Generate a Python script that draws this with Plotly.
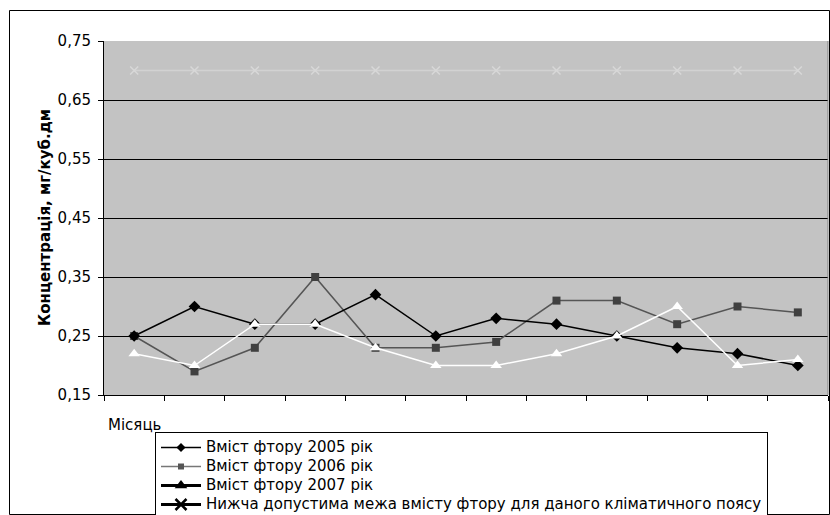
import plotly.graph_objects as go

# Months (1..12) and fluoride content, mg/cub.dm
months = list(range(1, 13))
fluor_2005 = [0.25, 0.30, 0.27, 0.27, 0.32, 0.25, 0.28, 0.27, 0.25, 0.23, 0.22, 0.20]
fluor_2006 = [0.25, 0.19, 0.23, 0.35, 0.23, 0.23, 0.24, 0.31, 0.31, 0.27, 0.30, 0.29]
fluor_2007 = [0.22, 0.20, 0.27, 0.27, 0.23, 0.20, 0.20, 0.22, 0.25, 0.30, 0.20, 0.21]
lower_limit = [0.70] * 12

names = [
    "Вміст фтору 2005 рік",
    "Вміст фтору 2006 рік",
    "Вміст фтору 2007 рік",
    "Нижча допустима межа вмісту фтору для даного кліматичного поясу",
]
y_ticks = [0.15, 0.25, 0.35, 0.45, 0.55, 0.65, 0.75]

FONT = "DejaVu Sans, Verdana, sans-serif"

fig = go.Figure()

# Plotted series
fig.add_trace(go.Scatter(
    x=months, y=lower_limit, mode="lines+markers", showlegend=False,
    line=dict(color="#d2d2d2", width=1.5),
    marker=dict(symbol="x-thin", size=8, line=dict(color="#d8d8d8", width=1.5)),
))
fig.add_trace(go.Scatter(
    x=months, y=fluor_2006, mode="lines+markers", showlegend=False,
    line=dict(color="#555555", width=1.5),
    marker=dict(symbol="square", size=8, color="#404040"),
))
fig.add_trace(go.Scatter(
    x=months, y=fluor_2005, mode="lines+markers", showlegend=False,
    line=dict(color="#000000", width=1.5),
    marker=dict(symbol="diamond", size=9, color="#000000"),
))
fig.add_trace(go.Scatter(
    x=months, y=fluor_2007, mode="lines+markers", showlegend=False,
    line=dict(color="#ffffff", width=1.5),
    marker=dict(symbol="triangle-up", size=10, color="#ffffff"),
))

# Legend keys
legend_styles = [
    dict(line=dict(color="#000000", width=1.5), marker=dict(symbol="diamond", size=7, color="#000000")),
    dict(line=dict(color="#777777", width=1.5), marker=dict(symbol="square", size=6, color="#555555")),
    dict(line=dict(color="#000000", width=3), marker=dict(symbol="triangle-up", size=11, color="#000000")),
    dict(line=dict(color="#000000", width=3), marker=dict(symbol="x-thin", size=11,
                                                          line=dict(color="#000000", width=2.5))),
]
for name, style in zip(names, legend_styles):
    fig.add_trace(go.Scatter(
        x=[None], y=[None], mode="lines+markers",
        name=f"<span style='font-size:15px'>{name}</span>", **style))

L, R, T, B = 104, 2, 41, 120
W, H = 830, 515
pw, ph = W - L - R, H - T - B


def px_x(px):
    return (px - L) / pw


def px_y(py):
    return (H - B - py) / ph


fig.update_layout(
    width=W, height=H,
    margin=dict(l=L, r=R, t=T, b=B, pad=0, autoexpand=False),
    paper_bgcolor="#ffffff",
    plot_bgcolor="#c3c3c3",
    separators=", ",
    font=dict(family=FONT, size=15, color="#000000"),
    xaxis=dict(
        range=[0.5, 12.5],
        tickvals=[m + 0.5 for m in range(0, 13)],
        ticktext=[""] * 13,
        ticks="outside", ticklen=5, tickcolor="#000000",
        showgrid=False, zeroline=False,
        showline=True, linecolor="#000000", linewidth=1,
    ),
    yaxis=dict(
        range=[0.15, 0.75],
        tickvals=y_ticks,
        tickformat=".2f",
        ticks="outside", ticklen=5, tickcolor="#000000",
        ticklabelstandoff=4,
        showgrid=True, gridcolor="#000000", gridwidth=1,
        zeroline=False,
        showline=True, linecolor="#000000", linewidth=1,
        tickfont=dict(size=15),
    ),
    legend=dict(
        x=px_x(155), y=px_y(432), xanchor="left", yanchor="top",
        bgcolor="#ffffff", bordercolor="#000000", borderwidth=1,
        font=dict(size=11.5, family=FONT),
        tracegroupgap=0, itemwidth=40,
    ),
    shapes=[
        # outer chart frame
        dict(type="rect", xref="paper", yref="paper",
             x0=px_x(9.5), x1=px_x(829.5), y0=px_y(514.5), y1=px_y(10.5),
             line=dict(color="#000000", width=1), layer="below"),
        # right edge of the plot area
        dict(type="line", xref="paper", yref="paper", x0=1, x1=1, y0=0, y1=1,
             line=dict(color="#808080", width=1)),
    ],
    annotations=[
        dict(text="<b>Концентрація, мг/куб.дм</b>", xref="paper", yref="paper",
             x=px_x(45), y=0.5, xanchor="center", yanchor="middle",
             textangle=-90, showarrow=False, font=dict(size=15, family=FONT)),
        dict(text="Місяць", xref="paper", yref="paper",
             x=px_x(106), y=px_y(425), xanchor="left", yanchor="middle",
             showarrow=False, font=dict(size=15, family=FONT)),
    ],
)

fig.write_html("out.html")
